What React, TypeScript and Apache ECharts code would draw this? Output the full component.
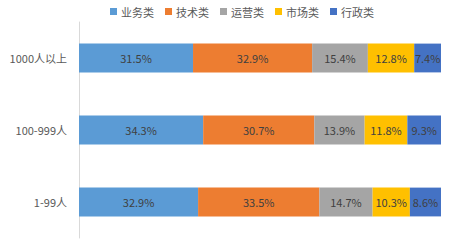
import React, { useEffect, useRef } from "react";
import * as echarts from "echarts";

const categories = ["1-99人", "100-999人", "1000人以上"];
const seriesNames = ["业务类", "技术类", "运营类", "市场类", "行政类"];
const business = [32.9, 34.3, 31.5];
const tech = [33.5, 30.7, 32.9];
const ops = [14.7, 13.9, 15.4];
const market = [10.3, 11.8, 12.8];
const admin = [8.6, 9.3, 7.4];
const colors = ["#5B9BD5", "#ED7D31", "#A5A5A5", "#FFC000", "#4472C4"];

export default function App() {
  const ref = useRef<HTMLDivElement>(null);
  useEffect(() => {
    if (!ref.current) return;
    const chart = echarts.init(ref.current, null, { renderer: "svg" });
    const data = [business, tech, ops, market, admin];
    const font = '"Noto Sans CJK SC", "Microsoft YaHei", sans-serif';
    chart.setOption({
      animation: false,
      textStyle: { fontFamily: font },
      legend: {
        top: 1,
        left: 105,
        itemWidth: 7,
        itemHeight: 7,
        itemGap: 11,
        icon: "rect",
        textStyle: { fontSize: 11, color: "#595959", fontFamily: font, padding: [0, 0, 0, -1] },
        data: seriesNames,
      },
      grid: { left: 79, right: 8, top: 22, bottom: 3, containLabel: false },
      xAxis: {
        type: "value",
        min: 0,
        max: 100,
        show: false,
      },
      yAxis: {
        type: "category",
        data: categories,
        axisLine: { show: true, lineStyle: { color: "#D9D9D9" } },
        axisTick: { show: false },
        axisLabel: { fontSize: 11, color: "#595959", margin: 12, fontFamily: font },
      },
      series: seriesNames.map((name, i) => ({
        name,
        type: "bar",
        stack: "total",
        barWidth: "40%",
        itemStyle: { color: colors[i] },
        label: {
          show: true,
          position: "inside",
          formatter: (p: any) => p.value.toFixed(1) + "%",
          fontSize: 11,
          color: "#404040",
          fontFamily: font,
        },
        data: data[i],
      })),
    });
    return () => chart.dispose();
  }, []);
  return <div ref={ref} style={{ width: 449, height: 241, position: "absolute", left: 0, top: 0 }} />;
}
